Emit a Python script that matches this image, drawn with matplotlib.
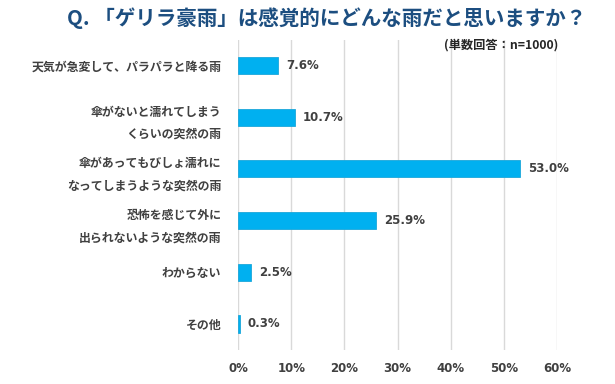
import matplotlib
matplotlib.use("Agg")
import matplotlib.pyplot as plt

plt.rcParams['font.family'] = ['Noto Sans CJK JP', 'DejaVu Sans']

categories = [
    "天気が急変して、パラパラと降る雨",
    "傘がないと濡れてしまう\nくらいの突然の雨",
    "傘があってもびしょ濡れに\nなってしまうような突然の雨",
    "恐怖を感じて外に\n出られないような突然の雨",
    "わからない",
    "その他",
]
values = [7.6, 10.7, 53.0, 25.9, 2.5, 0.3]
xticks = [0, 10, 20, 30, 40, 50, 60]

BAR = "#00B0F0"
TEXT = "#404040"

fig = plt.figure(figsize=(6.15, 3.84), dpi=100)
ax = fig.add_axes([0.387, 0.089, 0.519, 0.808])

ypos = list(range(len(categories)))
ax.barh(ypos, values, height=0.33, color=BAR, edgecolor="#1BA7DA", lw=0.6, zorder=3)
for y, v in zip(ypos, values):
    ax.text(v + 1.5, y, f"{v:.1f}%", va="center", ha="left", fontsize=8.5,
            fontweight="bold", color=TEXT, family=["DejaVu Sans"])

ax.set_ylim(len(categories) - 0.5, -0.5)
ax.set_xlim(0, 60)
ax.set_yticks(ypos)
ax.set_yticklabels(categories, fontsize=8.6, fontweight="bold", color=TEXT, linespacing=1.95)
ax.set_xticks(xticks)
ax.set_xticklabels([f"{t}%" for t in xticks], fontsize=8.5, fontweight="bold",
                   color=TEXT, family=["DejaVu Sans"])
ax.tick_params(axis="y", length=0, pad=12)
ax.tick_params(axis="x", length=0, pad=9)
ax.grid(axis="x", color="#D9D9D9", lw=1, zorder=0)
for s in ax.spines.values():
    s.set_visible(False)

fig.text(0.531, 0.953, "Q. 「ゲリラ豪雨」は感覚的にどんな雨だと思いますか？", ha="center", va="center",
         fontsize=14.8, fontweight="bold", color="#1C4E80")
fig.text(0.907, 0.883, "(単数回答：n=1000)", ha="right", va="center",
         fontsize=8.8, fontweight="bold", color="#262626")

fig.savefig("out.png", dpi=100)
